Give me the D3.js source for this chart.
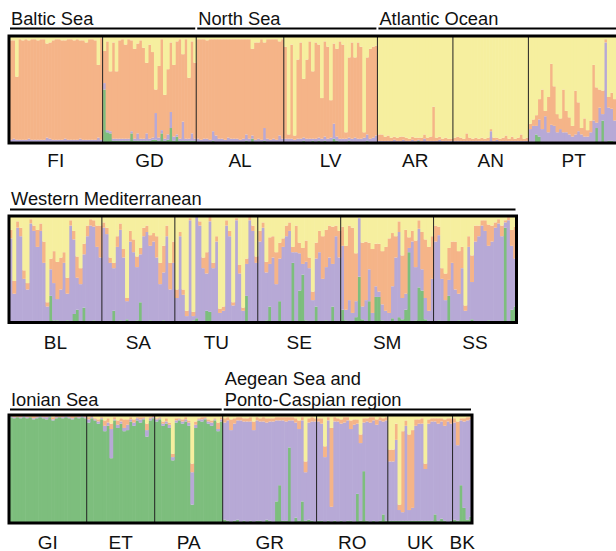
<!DOCTYPE html>
<html>
<head>
<meta charset="utf-8">
<script src="https://cdn.jsdelivr.net/npm/d3@7"></script>
<style>
  body { margin: 0; background: #fff; }
  text { font-family: "Liberation Sans", Arial, sans-serif; fill: #111; }
</style>
</head>
<body>
<div id="chart-container"></div>
<script>
/**************************************************
 * Ancestry per individual: [green, purple, orange] in %
 * yellow is whatever is left up to 100
 **************************************************/

const FI = [[1,2,93],[1,3,92],[1,2,59],[1,2,94],[1,2,93],[1,2,94],[1,3,92],[1,2,94],[1,2,94],[1,2,93],[1,2,94],[1,2,94],[1,4,88],[1,3,90],[1,2,93],[1,2,94],
  [1,2,94],[1,2,93],[1,3,92],[1,2,94],[1,2,94],[1,2,93],[1,2,94],[1,3,92],[1,2,93],[1,2,91],[1,2,94],[1,2,94],[1,2,93],[1,4,68],[1,2,95]];
const GD = [[50,6,30],[10,2,83],[9,2,56],[2,2,90],[2,2,63],[2,2,92],[2,2,93],[2,2,88],[2,2,93],[9,2,85],[2,2,84],[2,7,84],[2,2,92],[2,2,85],[2,7,66],[2,2,88],
  [3,2,80],[3,25,22],[2,3,67],[9,3,85],[2,2,41],[3,5,61],[14,15,65],[2,4,67],[6,2,87],[2,2,93],[2,18,63],[2,2,93],[2,2,57],[2,7,86],[2,2,71]];
const AL = [[1,3,93],[1,2,94],[1,3,93],[1,3,92],[1,2,94],[2,9,86],[1,6,90],[1,3,93],[1,3,93],[1,2,94],[1,4,92],[1,3,93],[1,3,93],[1,3,93],[1,2,94],
  [1,3,93],[2,6,89],[1,3,93],[4,3,81],[1,2,91],[1,3,90],[1,2,94],[2,12,80],[1,3,93],[1,2,94],[1,3,93],[1,2,94],[1,6,88],[1,3,93]];
const LV = [[1,3,86],[1,3,4],[1,3,88],[1,2,4],[1,3,74],[1,3,90],[2,3,55],[1,3,74],[1,3,91],[2,2,63],[1,3,90],[2,3,87],[1,3,38],[2,4,89],[1,3,86],[1,4,35],
  [4,14,75],[2,4,82],[1,3,91],[1,3,88],[1,3,6],[2,3,75],[1,3,90],[1,4,75],[1,3,90],[1,3,86],[1,4,5],[2,6,72],[1,3,84],[1,4,85],[1,6,84]];
const AR = [[1,1,6],[1,1,6],[1,1,4],[1,1,5],[1,1,3],[1,2,3],[1,1,3],[1,1,4],[1,2,3],[1,1,3],[1,1,2],[1,2,3],[1,1,3],[2,1,2],[1,1,3],[1,3,4],
  [1,1,3],[1,1,4],[1,1,32],[1,1,3],[1,2,3],[1,1,2],[1,1,3],[1,1,2],[1,1,2]];
const AN = [[1,1,3],[1,1,4],[1,1,3],[1,1,2],[1,1,7],[1,1,3],[1,1,2],[1,1,3],[1,1,2],[1,1,3],[1,1,2],[1,1,3],[1,10,2],[1,1,3],[1,2,2],[1,1,2],
  [1,1,3],[1,1,5],[1,1,2],[1,1,4],[1,1,2],[1,1,3],[1,1,6],[1,1,2],[1,1,3]];
const PT = [[1,12,5],[1,15,6],[8,8,10],[6,16,19],[1,12,37],[1,24,5],[1,9,33],[1,16,57],[1,15,37],[1,9,17],[1,12,10],[1,9,40],[1,9,20],[1,7,16],[1,5,10],
  [1,7,41],[1,10,27],[1,7,6],[1,5,17],[1,5,6],[1,9,11],[1,20,52],[14,5,33],[1,32,17],[21,6,22],[1,93,3],[2,31,10],[2,30,15],[1,20,20],[1,15,25]];

const BL = [[1,78,8],[1,26,12],[1,88,6],[1,80,8],[1,40,8],[1,30,6],[1,92,4],[1,85,5],[1,70,16],[1,85,7],[1,55,20],[1,14,4],[25,25,10],[2,35,30],
  [2,20,35],[1,30,30],[1,55,10],[2,25,15],[1,90,5],[8,70,8],[12,30,20],[1,35,15],[14,50,10],[1,80,10],[1,90,6],[2,88,6],[1,70,20],[1,60,30]];
const SA = [[1,88,5],[1,82,6],[1,55,5],[11,40,5],[1,70,10],[2,85,6],[1,60,8],[3,17,3],[1,75,10],[1,65,12],[2,50,10],[19,45,6],[1,80,8],[1,84,6],
  [2,70,10],[1,75,8],[1,60,20],[1,35,20],[2,45,25],[1,80,10],[1,30,25],[1,55,20]];
const TU = [[1,22,8],[1,80,4],[1,25,5],[1,5,5],[1,95,2],[2,4,4],[4,95,1],[1,90,4],[1,50,10],[11,35,20],[10,85,4],[1,50,5],[1,75,5],[1,8,4],
  [1,10,4],[1,90,5],[1,80,5],[1,15,3],[1,95,2],[1,45,8],[1,10,3],[25,30,5],[1,95,3],[1,85,5],[1,55,6]];
const SE = [[1,75,10],[1,88,5],[2,45,10],[15,40,25],[1,60,20],[1,35,30],[20,40,15],[1,70,8],[1,80,10],[1,85,8],[56,10,5],[1,65,25],[30,35,10],
  [45,10,15],[2,55,20],[1,50,10],[1,20,8],[15,45,15],[1,65,20],[1,40,40],[2,50,35],[1,60,30],[15,40,35],[1,80,10],[1,60,25]];
const SM = [[12,60,18],[2,10,60],[1,20,70],[1,8,80],[5,15,45],[43,55,0],[3,12,60],[1,20,55],[20,30,25],[1,8,60],[24,10,40],[24,5,45],[2,15,50],
  [1,10,60],[1,8,70],[4,30,50],[1,60,20],[5,80,10],[3,20,40],[12,15,60],[66,4,10],[1,75,10],[2,50,25],[33,55,8],[30,20,35],[3,20,55],[1,10,60],[1,40,40]];
const SS = [[1,75,15],[2,80,8],[1,40,10],[1,20,25],[25,15,30],[1,55,20],[1,30,45],[2,25,40],[1,50,20],[1,10,5],[1,70,10],[3,35,25],[1,75,15],
  [1,80,10],[1,90,5],[1,85,10],[2,70,20],[1,75,15],[1,88,5],[1,92,4],[1,80,10],[89,5,2],[1,95,3],[12,60,15],[15,45,30]];

const GI = [[98,1,0],[97,1,1],[98,0,1],[97,1,1],[98,1,0],[97,1,1],[98,0,1],[96,1,2],[97,1,1],[98,1,0],[97,1,1],[96,2,1],[98,1,0],[95,1,2],
  [97,1,1],[98,0,1],[97,1,1],[98,1,0],[97,1,1],[96,1,2],[98,0,1],[97,1,1],[98,1,0],[97,1,1]];
const ET = [[93,3,2],[97,1,1],[95,1,1],[92,2,2],[96,1,1],[85,5,5],[90,3,4],[60,27,5],[95,1,2],[88,3,4],[92,2,3],[85,3,8],[86,5,5],[94,2,2],
  [90,3,3],[95,2,1],[93,3,2],[96,1,1],[80,6,6],[95,2,1],[97,1,1]];
const PA = [[94,2,1],[96,1,1],[90,2,2],[92,2,3],[88,3,2],[58,3,3],[93,2,2],[95,1,1],[92,2,2],[94,2,2],[90,3,2],[17,30,8],[88,3,3],[95,1,1],
  [94,2,2],[96,1,1],[92,2,2],[90,3,2],[95,1,1],[85,2,6],[94,2,2]];
const GR = [[3,90,4],[2,93,3],[1,85,10],[2,90,5],[3,92,3],[1,94,3],[2,92,3],[1,93,3],[2,92,4],[1,85,8],[2,93,3],[2,92,3],[1,93,4],[3,90,4],
  [2,92,3],[1,93,3],[20,75,3],[35,60,3],[2,93,3],[2,92,4],[70,25,3],[1,94,3],[5,88,4],[2,85,8],[20,75,3],[2,45,10],[3,90,4],[2,92,4],[1,93,3]];
const RO = [[2,92,3],[2,90,5],[1,60,10],[2,93,3],[1,14,73],[2,92,4],[1,93,3],[2,90,4],[1,92,5],[2,93,3],[2,85,8],[1,90,5],[27,65,4],[2,72,8],
  [48,45,4],[2,92,3],[1,92,5],[2,93,3],[1,90,5],[2,93,3],[8,86,3],[2,93,3]];
const UK = [[2,55,11],[2,55,11],[2,75,15],[2,10,5],[2,8,75],[2,88,5],[2,10,70],[2,12,72],[2,88,6],[2,90,4],[2,90,5],[2,48,5],[2,90,4],[2,92,3],
  [8,86,3],[2,90,5],[4,90,3],[2,88,6],[1,93,3],[2,90,5]];
const BK = [[3,90,4],[2,70,22],[35,60,2],[14,80,3],[3,92,3],[6,90,2]];

const popData = { FI, GD, AL, LV, AR, AN, PT, BL, SA, TU, SE, SM, SS, GI, ET, PA, GR, RO, UK, BK };

// stacking order bottom -> top
const clusterKeys = ["g", "p", "o", "y"];
const clusterColors = { g: "#7dbe7d", p: "#b7a9d6", o: "#f5b488", y: "#f6ef9f" };

const panel1Pops = ["FI", "GD", "AL", "LV", "AR", "AN", "PT"];
const panel2Pops = ["BL", "SA", "TU", "SE", "SM", "SS"];
const panel3Pops = ["GI", "ET", "PA", "GR", "RO", "UK", "BK"];

const panel1Regions = [[["Baltic Sea"], "FI", "GD"], [["North Sea"], "AL", "LV"], [["Atlantic Ocean"], "AR", "PT"]];
const panel2Regions = [[["Western Mediterranean"], "BL", "SS"]];
const panel3Regions = [[["Ionian Sea"], "GI", "PA"], [["Aegean Sea and", "Ponto-Caspian region"], "GR", "BK"]];

/**************************************************
 * Rendering
 **************************************************/

const svg = d3.select("#chart-container")
  .append("svg")
  .attr("width", 616)
  .attr("height", 551);

function drawPanel(pops, regions, box) {
  const rows = [];
  pops.forEach(pop => {
    popData[pop].forEach((q, i) => {
      rows.push({ id: pop + "_" + i, pop: pop, g: q[0], p: q[1], o: q[2], y: 100 - q[0] - q[1] - q[2] });
    });
  });

  const x = d3.scaleBand()
    .domain(rows.map(r => r.id))
    .range([box.x0, box.x1]);
  const y = d3.scaleLinear()
    .domain([0, 100])
    .range([box.y1, box.y0]);

  const series = d3.stack().keys(clusterKeys)(rows);
  const g = svg.append("g");

  series.forEach(s => {
    g.selectAll(null)
      .data(s)
      .join("rect")
      .attr("x", d => x(d.data.id))
      .attr("width", x.bandwidth() + 0.6)
      .attr("y", d => y(d[1]))
      .attr("height", d => Math.max(0, y(d[0]) - y(d[1])))
      .attr("fill", clusterColors[s.key]);
  });

  const popStart = pop => x(pop + "_0");
  const popEnd = pop => x(pop + "_" + (popData[pop].length - 1)) + x.bandwidth();

  // population dividers
  pops.slice(1).forEach(pop => {
    g.append("line")
      .attr("x1", popStart(pop)).attr("x2", popStart(pop))
      .attr("y1", box.y0).attr("y2", box.y1)
      .attr("stroke", "#222")
      .attr("stroke-width", 1);
  });

  // heavy frame
  g.append("rect")
    .attr("x", box.x0).attr("y", box.y0)
    .attr("width", box.x1 - box.x0)
    .attr("height", box.y1 - box.y0)
    .attr("fill", "none")
    .attr("stroke", "#000")
    .attr("stroke-width", 3);

  // population labels
  pops.forEach(pop => {
    g.append("text")
      .attr("x", (popStart(pop) + popEnd(pop)) / 2)
      .attr("y", box.labelY)
      .attr("text-anchor", "middle")
      .attr("font-size", "19px")
      .text(pop);
  });

  // region headers
  regions.forEach(([lines, from, to]) => {
    const rx0 = popStart(from) + 1;
    const rx1 = popEnd(to) - 1;
    g.append("line")
      .attr("x1", rx0).attr("x2", rx1)
      .attr("y1", box.lineY).attr("y2", box.lineY)
      .attr("stroke", "#000")
      .attr("stroke-width", 2.2);
    lines.forEach((t, i) => {
      g.append("text")
        .attr("x", rx0 + 1)
        .attr("y", box.titleY - (lines.length - 1 - i) * 20.5)
        .attr("font-size", "18.3px")
        .text(t);
    });
  });
}

drawPanel(panel1Pops, panel1Regions, { x0: 9, x1: 619, y0: 36, y1: 143, labelY: 167, lineY: 28.5, titleY: 24.5 });
drawPanel(panel2Pops, panel2Regions, { x0: 9, x1: 516.5, y0: 216, y1: 322.5, labelY: 348.5, lineY: 209.5, titleY: 205 });
drawPanel(panel3Pops, panel3Regions, { x0: 9, x1: 472, y0: 415, y1: 523, labelY: 548.5, lineY: 409.5, titleY: 405.5 });
</script>
</body>
</html>
